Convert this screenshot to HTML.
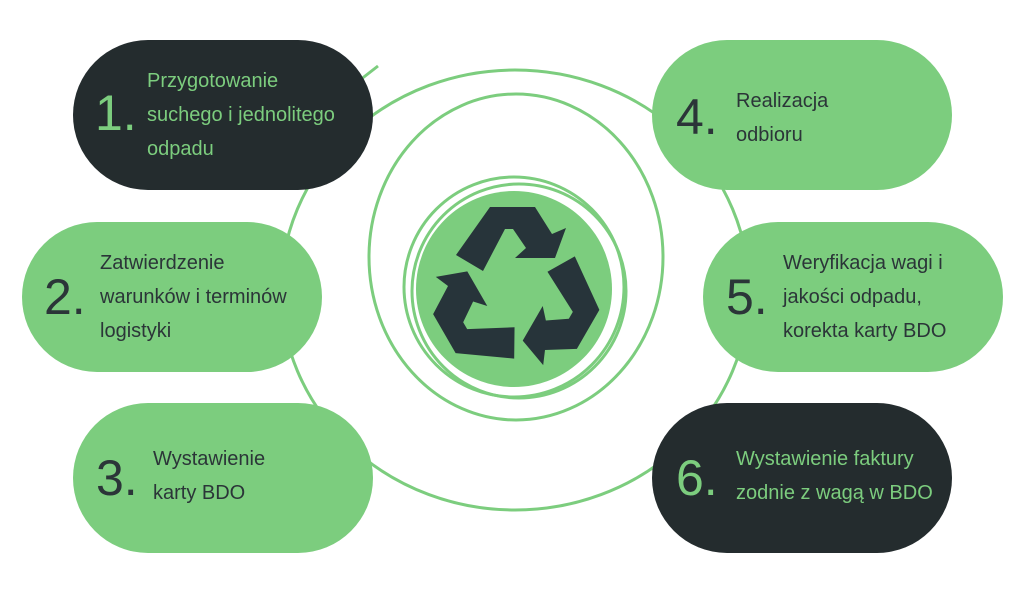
<!DOCTYPE html>
<html><head><meta charset="utf-8"><style>
html,body{margin:0;padding:0;background:#fff;}
#c{position:relative;width:1024px;height:593px;overflow:hidden;font-family:"Liberation Sans",sans-serif;}
.p{position:absolute;width:300px;height:150px;border-radius:75px;}
.d{background:#242c2e;color:#7ccd7e;}
.g{background:#7ccd7e;color:#2b3538;}
.n{position:absolute;font-size:50px;line-height:50px;}
.t{position:absolute;font-size:20px;line-height:34px;white-space:nowrap;}
</style></head><body><div id="c">
<svg width="1024" height="593" style="position:absolute;left:0;top:0">
<g fill="none" stroke="#7ccd7e" stroke-width="3">
<ellipse cx="515" cy="290" rx="234" ry="220"/>
<line x1="360" y1="80" x2="378" y2="66"/>
<ellipse cx="516" cy="257" rx="147" ry="163"/>
<circle cx="514" cy="287" r="110"/>
<circle cx="519" cy="291" r="107"/>
</g>
<circle cx="514" cy="289" r="98" fill="#7ccd7e"/>
<g fill="#27343a">
<polygon id="a" points="456,255 490,207 535,207 552,234 566,228 555,258 515,258 526,248 513,229 505,229 483,271"/>
<use href="#a" transform="rotate(120 515 290)"/>
<use href="#a" transform="rotate(240 515 290)"/>
</g>
</svg>
<div class="p d" style="left:73px;top:40px"></div>
<div class="p g" style="left:22px;top:222px"></div>
<div class="p g" style="left:73px;top:403px"></div>
<div class="p g" style="left:652px;top:40px"></div>
<div class="p g" style="left:703px;top:222px"></div>
<div class="p d" style="left:652px;top:403px"></div>

<div class="n" style="left:95px;top:88px;color:#7ccd7e">1.</div>
<div class="t" style="left:147px;top:64px;color:#7ccd7e">Przygotowanie<br>suchego i jednolitego<br>odpadu</div>
<div class="n" style="left:44px;top:272px;color:#2b3538">2.</div>
<div class="t" style="left:100px;top:246px;color:#2b3538">Zatwierdzenie<br>warunków i terminów<br>logistyki</div>
<div class="n" style="left:96px;top:453px;color:#2b3538">3.</div>
<div class="t" style="left:153px;top:442px;color:#2b3538">Wystawienie<br>karty BDO</div>
<div class="n" style="left:676px;top:92px;color:#2b3538">4.</div>
<div class="t" style="left:736px;top:84px;color:#2b3538">Realizacja<br>odbioru</div>
<div class="n" style="left:726px;top:272px;color:#2b3538">5.</div>
<div class="t" style="left:783px;top:246px;color:#2b3538">Weryfikacja wagi i<br>jakości odpadu,<br>korekta karty BDO</div>
<div class="n" style="left:676px;top:453px;color:#7ccd7e">6.</div>
<div class="t" style="left:736px;top:442px;color:#7ccd7e">Wystawienie faktury<br>zodnie z wagą w BDO</div>
</div></body></html>
